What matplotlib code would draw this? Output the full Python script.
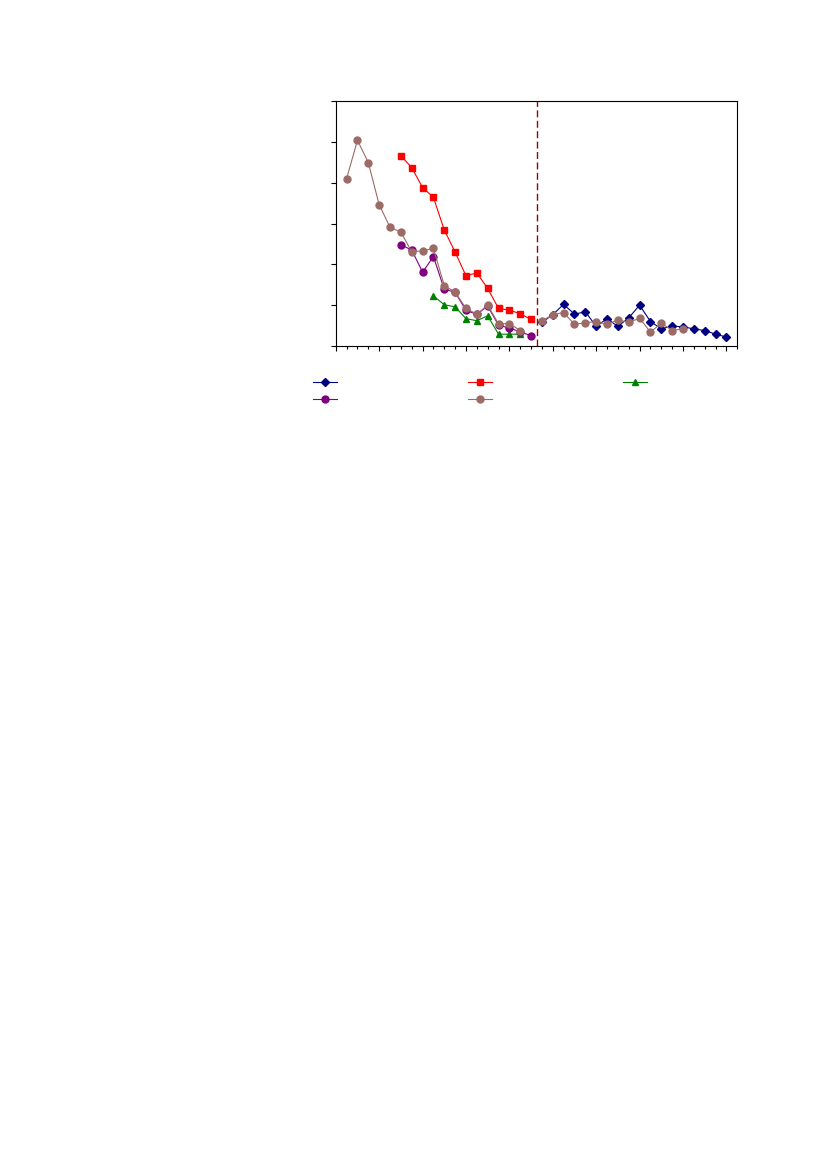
import numpy as np
import matplotlib
matplotlib.use("Agg")
import matplotlib.pyplot as plt
from matplotlib.ticker import MultipleLocator

nan = np.nan

# series values, x positions are integer steps
blue_x = list(range(19, 37))
blue_y = [0.58, 0.77, 1.02, 0.78, 0.84, 0.48, 0.67, 0.48, 0.69, 1.00,
          0.60, 0.42, 0.49, 0.47, 0.42, 0.38, 0.29, 0.22]

red_x = list(range(6, 19))
red_y = [4.66, 4.37, 3.88, 3.64, 2.84, 2.30, 1.72, 1.79, 1.41, 0.92,
         0.88, 0.79, 0.65]

green_x = list(range(9, 18))
green_y = [1.23, 1.01, 0.96, 0.67, 0.62, 0.74, 0.29, 0.29, 0.29]

purple_x = list(range(6, 19))
purple_y = [2.48, 2.35, 1.81, 2.19, 1.39, 1.32, 0.87, 0.78, 0.98, 0.51,
            0.44, 0.35, 0.25]

brown_x = list(range(1, 33))
brown_y = [4.10, 5.04, 4.49, 3.46, 2.91, 2.79, 2.31, 2.33, 2.39, 1.48,
           1.32, 0.92, 0.78, 1.00, 0.54, 0.55, 0.38, nan, 0.61, 0.77,
           0.82, 0.53, 0.57, 0.60, 0.53, 0.64, 0.58, 0.68, 0.34, 0.56,
           0.38, 0.42]

split_x = 18.5

fig = plt.figure(figsize=(8.27, 11.69), dpi=100)
ax = fig.add_axes([0.406, 0.704, 0.4855, 0.2096])

lw = 0.8
h_blue, = ax.plot(blue_x, blue_y, color="#000080", marker="D", ms=4, lw=lw)
h_red, = ax.plot(red_x, red_y, color="#ff0000", marker="s", ms=5, lw=lw)
h_green, = ax.plot(green_x, green_y, color="#008000", marker="^", ms=5, lw=lw)
h_purple, = ax.plot(purple_x, purple_y, color="#800080", marker="o", ms=5, lw=lw)
h_brown, = ax.plot(brown_x, brown_y, color="#9c6b66", marker="o", ms=5, lw=lw)

ax.axvline(split_x, color="#a00000", ls=(0, (5, 2.5)), lw=1)

ax.set_xlim(0, 37)
ax.set_ylim(0, 6)
ax.xaxis.set_major_locator(MultipleLocator(4))
ax.xaxis.set_minor_locator(MultipleLocator(1))
ax.yaxis.set_major_locator(MultipleLocator(1))
ax.tick_params(axis="both", which="major", direction="out", length=3.5, width=0.8,
               labelbottom=False, labelleft=False)
ax.tick_params(axis="x", which="minor", direction="out", length=2, width=0.8)
for s in ax.spines.values():
    s.set_linewidth(0.8)

leg = fig.legend([h_blue, h_purple, h_red, h_brown, h_green],
                 ["", "", "", "", ""], ncol=3, frameon=False,
                 loc="upper left", bbox_to_anchor=(0.3664, 0.6856),
                 handlelength=2.2, handletextpad=0.0, columnspacing=11.75,
                 labelspacing=0.65, fontsize=8)

fig.savefig("out.png", dpi=100)
